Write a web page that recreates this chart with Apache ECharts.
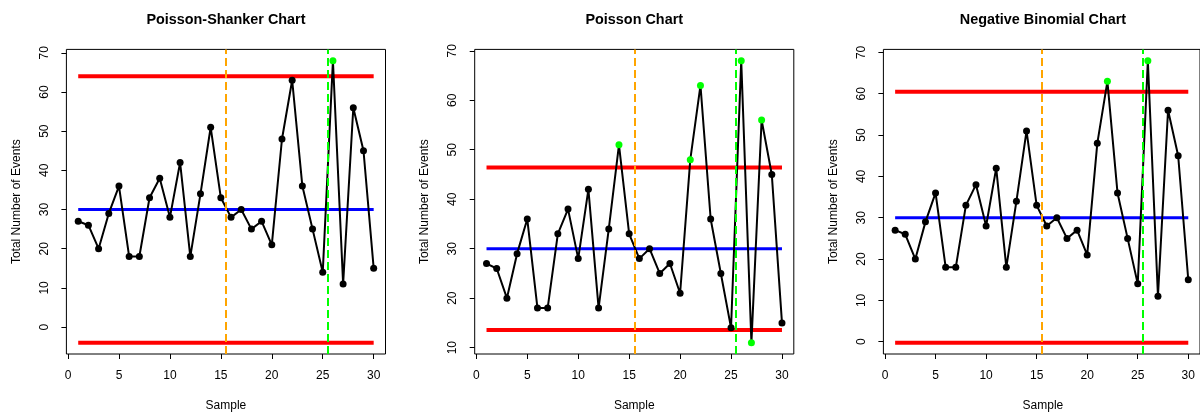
<!DOCTYPE html>
<html>
<head>
<meta charset="utf-8">
<script src="https://cdn.jsdelivr.net/npm/echarts@6/dist/echarts.min.js"></script>
<style>
  html, body { margin: 0; padding: 0; background: #fff; }
  #chart { width: 1200px; height: 414px; }
</style>
</head>
<body>
<div id="chart"></div>
<script>
// ---- data ----
const samples = [1,2,3,4,5,6,7,8,9,10,11,12,13,14,15,16,17,18,19,20,21,22,23,24,25,26,27,28,29,30];
const totalEvents = [27,26,20,29,36,18,18,33,38,28,42,18,34,51,33,28,30,25,27,21,48,63,36,25,14,68,11,56,45,15];
const chartTitles = ['Poisson-Shanker Chart', 'Poisson Chart', 'Negative Binomial Chart'];
const uclValues = [64, 46.43, 60.5];
const clValues = [30, 30, 30];
const lclValues = [-4, 13.57, -0.24];
const phaseLines = [15.5, 25.5];
const xTicks = [0, 5, 10, 15, 20, 25, 30];
const yTicksList = [
  [0, 10, 20, 30, 40, 50, 60, 70],
  [10, 20, 30, 40, 50, 60, 70],
  [0, 10, 20, 30, 40, 50, 60, 70]
];
const xName = 'Sample';
const yName = 'Total Number of Events';

// ---- layout ----
const FONT = 'Liberation Sans, Arial, Helvetica, sans-serif';
const gridLefts = [66.4, 474.7, 883.4];
const gridW = 319.1, gridTop = 49.4, gridH = 304.6;
const phaseColors = ['#FFA500', '#00FF00'];

function ext(lo, hi) { const r = hi - lo; return [lo - 0.04 * r, hi + 0.04 * r]; }
const xr = ext(Math.min(...samples), Math.max(...samples));

const grids = [], xAxes = [], yAxes = [], series = [], graphics = [];

for (let i = 0; i < 3; i++) {
  const yr = ext(Math.min(...totalEvents, lclValues[i]), Math.max(...totalEvents, uclValues[i]));
  grids.push({ left: gridLefts[i], top: gridTop, width: gridW, height: gridH,
    show: true, borderColor: '#000', borderWidth: 1, backgroundColor: 'transparent' });
  xAxes.push({ type: 'value', gridIndex: i, min: xr[0], max: xr[1], position: 'bottom',
    axisLine: { show: false, onZero: false }, splitLine: { show: false },
    axisTick: { show: true, customValues: xTicks, length: 5, lineStyle: { color: '#000', width: 1 } },
    axisLabel: { customValues: xTicks, margin: 16, fontSize: 12, color: '#000', fontFamily: FONT } });
  yAxes.push({ type: 'value', gridIndex: i, min: yr[0], max: yr[1], position: 'left',
    axisLine: { show: false, onZero: false }, splitLine: { show: false },
    axisTick: { show: true, customValues: yTicksList[i], length: 5, lineStyle: { color: '#000', width: 1 } },
    axisLabel: { customValues: yTicksList[i], rotate: 90, margin: 16, fontSize: 12, color: '#000', fontFamily: FONT } });

  const first = samples[0], last = samples[samples.length - 1];
  series.push({ type: 'line', xAxisIndex: i, yAxisIndex: i, symbol: 'none', silent: true, z: 2,
    data: [[first, uclValues[i]], [last, uclValues[i]]], lineStyle: { color: '#FF0000', width: 4 } });
  series.push({ type: 'line', xAxisIndex: i, yAxisIndex: i, symbol: 'none', silent: true, z: 2,
    data: [[first, lclValues[i]], [last, lclValues[i]]], lineStyle: { color: '#FF0000', width: 4 } });
  series.push({ type: 'line', xAxisIndex: i, yAxisIndex: i, symbol: 'none', silent: true, z: 2,
    data: [[first, clValues[i]], [last, clValues[i]]], lineStyle: { color: '#0000FF', width: 3 } });

  series.push({ type: 'line', xAxisIndex: i, yAxisIndex: i, z: 3, symbol: 'circle', symbolSize: 7,
    lineStyle: { color: '#000', width: 2 },
    data: samples.map((s, k) => {
      const v = totalEvents[k];
      const out = v > uclValues[i] || v < lclValues[i];
      return { value: [s, v], itemStyle: { color: out ? '#00FF00' : '#000', borderWidth: 0 } };
    }),
    markLine: { silent: true, symbol: 'none', label: { show: false }, animation: false,
      data: phaseLines.map((p, k) => ({ xAxis: p,
        lineStyle: { color: phaseColors[k], width: 2, type: [8, 4] } })) }
  });

  const cx = gridLefts[i] + gridW / 2;
  graphics.push({ type: 'text', x: cx, y: 20, style: { text: chartTitles[i], fill: '#000',
    font: 'bold 14.4px ' + FONT, textAlign: 'center', textVerticalAlign: 'middle' } });
  graphics.push({ type: 'text', x: cx, y: 406, style: { text: xName, fill: '#000',
    font: '12px ' + FONT, textAlign: 'center', textVerticalAlign: 'middle' } });
  graphics.push({ type: 'text', x: gridLefts[i] - 50.2, y: gridTop + gridH / 2, rotation: Math.PI / 2,
    style: { text: yName, fill: '#000', font: '12px ' + FONT, textAlign: 'center', textVerticalAlign: 'middle' } });
}

const chart = echarts.init(document.getElementById('chart'), null, { renderer: 'canvas' });
chart.setOption({
  animation: false,
  backgroundColor: '#fff',
  textStyle: { fontFamily: FONT },
  grid: grids, xAxis: xAxes, yAxis: yAxes, series: series, graphic: graphics
});
</script>
</body>
</html>
